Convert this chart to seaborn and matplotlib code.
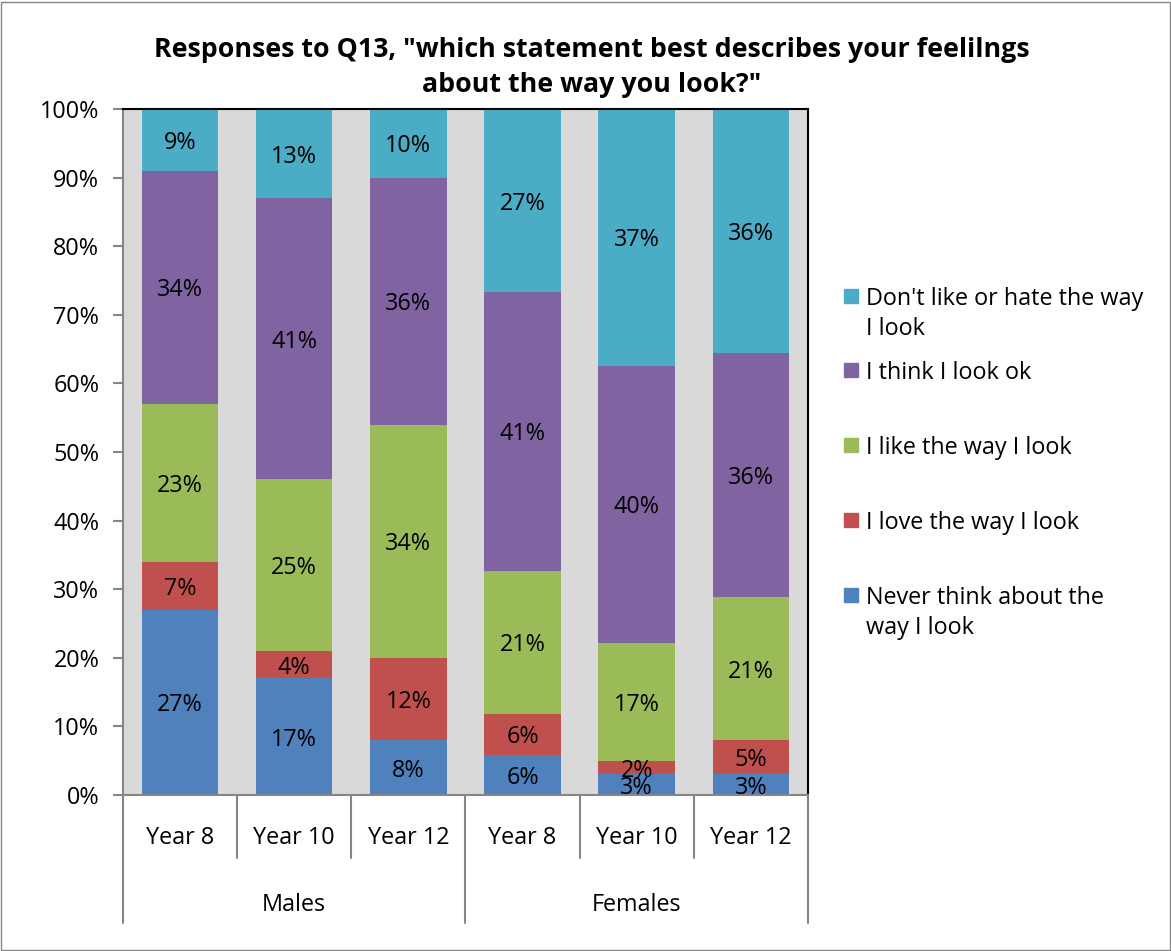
import matplotlib.pyplot as plt
import matplotlib.patches as mpatches
import pandas as pd
import seaborn as sns

# data, bottom segment first
bars = ['M8', 'M10', 'M12', 'F8', 'F10', 'F12']
years = ['Year 8', 'Year 10', 'Year 12', 'Year 8', 'Year 10', 'Year 12']
groups = ['Males', 'Females']
never = [27, 17, 8, 5.9, 3.0, 3.0]
love = [7, 4, 12, 5.9, 2.0, 5.0]
like = [23, 25, 34, 20.9, 17.2, 20.8]
ok = [34, 41, 36, 40.6, 40.4, 35.6]
dislike = [9, 13, 10, 26.7, 37.4, 35.6]

series = ['Never think about the\nway I look', 'I love the way I look',
          'I like the way I look', 'I think I look ok',
          "Don't like or hate the way\nI look"]
colors = ['#4F81BD', '#C0504D', '#9BBB59', '#8064A2', '#4BACC6']

df = pd.DataFrame({'bar': bars, 'never': never, 'love': love, 'like': like,
                   'ok': ok, 'dislike': dislike})
cols = ['never', 'love', 'like', 'ok', 'dislike']
cum = df[cols].cumsum(axis=1)

sns.set_style('white')
plt.rcParams['font.family'] = ['Open Sans', 'DejaVu Sans']
plt.rcParams['text.color'] = 'black'
plt.rcParams['ytick.labelcolor'] = 'black'
FS = 16.8
VA = 'center_baseline'

fig = plt.figure(figsize=(11.71, 9.51), dpi=100)
ax = fig.add_axes([0.105, 0.164, 0.585, 0.7214])
ax.set_facecolor('#D9D9D9')

# draw cumulative bars from the top layer down
for c, col in zip(reversed(cols), reversed(colors)):
    sns.barplot(x=df['bar'], y=cum[c], order=bars, color=col, width=0.67,
                saturation=1, ax=ax, edgecolor='none')

# segment labels
for i in range(len(bars)):
    for c in cols:
        v = df.loc[i, c]
        mid = cum.loc[i, c] - v / 2
        ax.text(i, mid, f'{v:.0f}%', ha='center', va=VA, fontsize=FS)

ax.set_ylim(0, 100)
ax.set_xlim(-0.5, 5.5)
ax.set_yticks(range(0, 101, 10))
ax.set_yticklabels([f'{t}%' for t in range(0, 101, 10)], fontsize=FS)
ax.tick_params(axis='y', length=7, color='#868686', left=True, width=1.5,
               pad=10)
ax.set_xticks([])
ax.set_xlabel('')
ax.set_ylabel('')

for s in ['left', 'bottom']:
    ax.spines[s].set_color('#868686')
    ax.spines[s].set_linewidth(1.5)
for s in ['top', 'right']:
    ax.spines[s].set_color('black')
    ax.spines[s].set_linewidth(1.5)

# two-level category axis
h1 = -63 / 686
h2 = -128 / 686
for k in range(7):
    x = k / 6
    bottom = h2 if k in (0, 3, 6) else h1
    ax.plot([x, x], [0, bottom], transform=ax.transAxes, color='#868686',
            lw=1.5, clip_on=False)
for k, y in enumerate(years):
    ax.text((k + 0.5) / 6, -40 / 686, y, transform=ax.transAxes,
            ha='center', va=VA, fontsize=FS)
for k, g in enumerate(groups):
    ax.text((k + 0.5) / 2, -107 / 686, g, transform=ax.transAxes,
            ha='center', va=VA, fontsize=FS)

fig.text(0.505, 1 - 47 / 951, 'Responses to Q13, "which statement best describes your feelilngs',
         ha='center', va=VA, fontsize=19.3, fontweight='bold')
fig.text(0.505, 1 - 82 / 951, 'about the way you look?"',
         ha='center', va=VA, fontsize=19.3, fontweight='bold')

# legend, top entry first
leg_y = [296, 370, 445, 520, 595]
for name, col, y in zip(reversed(series), reversed(colors), leg_y):
    fig.patches.append(mpatches.Rectangle((844 / 1171, 1 - (y + 7) / 951),
                                          14 / 1171, 14 / 951,
                                          transform=fig.transFigure,
                                          color=col))
    for j, line in enumerate(name.split('\n')):
        fig.text(866 / 1171, 1 - (y + 30 * j) / 951, line, ha='left',
                 va=VA, fontsize=FS)

fig.patches.append(mpatches.Rectangle((0.001, 0.001), 0.998, 0.997,
                                      transform=fig.transFigure, fill=False,
                                      edgecolor='#868686', lw=1))

fig.savefig('out.png', dpi=100)
